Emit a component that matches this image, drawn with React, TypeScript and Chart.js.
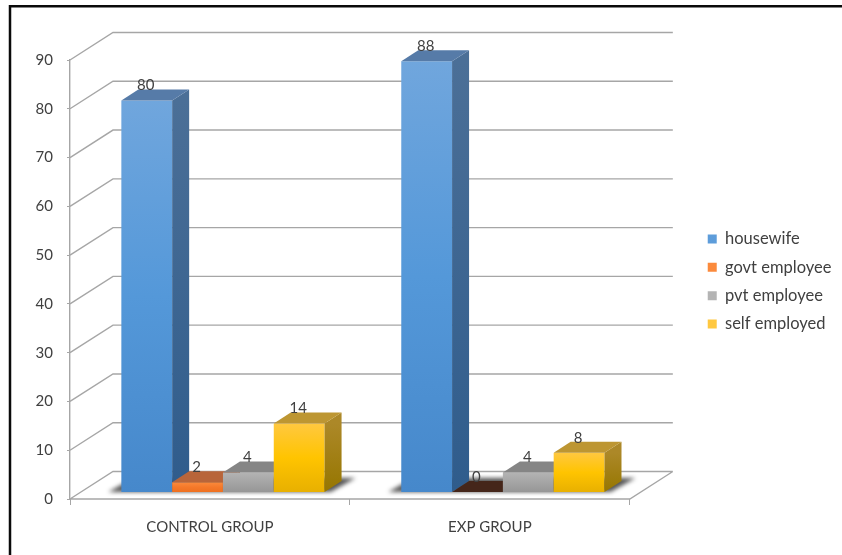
import React, { useEffect, useRef } from "react";
import { Chart, registerables } from "chart.js";

Chart.register(...registerables);

const categories = ["CONTROL GROUP", "EXP GROUP"];
const seriesNames = ["housewife", "govt employee", "pvt employee", "self employed"];
const housewife = [80, 88];
const govtEmployee = [2, 0];
const pvtEmployee = [4, 4];
const selfEmployed = [14, 8];
const seriesValues = [housewife, govtEmployee, pvtEmployee, selfEmployed];
const yTicks = [0, 10, 20, 30, 40, 50, 60, 70, 80, 90];

// Colour ramps for each series: front face (top, middle, bottom), side (top, bottom), cap.
const frontTop = ["#70a6dd", "#fb8a3c", "#b4b4b4", "#ffc840"];
const frontMid = ["#5498d9", "#f5792a", "#a5a5a5", "#ffc400"];
const frontBottom = ["#4688cb", "#ee7020", "#969696", "#e8b000"];
const sideTop = ["#4b6f97", "#a85a28", "#7c7c7c", "#ac8828"];
const sideBottom = ["#2f5c8c", "#a85a28", "#6e6e6e", "#967600"];
const capColor = ["#567ba8", "#b8653a", "#858585", "#bd9632"];
const legendColor = ["#5498d9", "#f5792a", "#a5a5a5", "#ffc400"];
const emptyCapColor = "#45261a";

const GRID = "#a6a6a6";
const TEXT = "#404040";
const FONT = "Lato";

// Projection of the 3D box: wall depth, and how far the bars sit in from the floor's front edge.
const WALL_DX = 43;
const WALL_DY = -27.5;
const BAR_DX = 13;
const BAR_DY = -7;
const BAR_DEPTH_X = 17;
const BAR_DEPTH_Y = -11;

function quad(ctx: CanvasRenderingContext2D, pts: number[][], fill: string | CanvasGradient) {
  ctx.beginPath();
  ctx.moveTo(pts[0][0], pts[0][1]);
  for (let i = 1; i < pts.length; i++) ctx.lineTo(pts[i][0], pts[i][1]);
  ctx.closePath();
  ctx.fillStyle = fill;
  ctx.fill();
}

const framePlugin = {
  id: "frame",
  beforeDraw(chart: any) {
    const { ctx } = chart;
    ctx.save();
    ctx.fillStyle = "#ffffff";
    ctx.fillRect(0, 0, chart.width, chart.height);
    ctx.strokeStyle = "#0a0a0a";
    ctx.lineWidth = 2.5;
    ctx.beginPath();
    ctx.moveTo(10, chart.height);
    ctx.lineTo(10, 6.3);
    ctx.lineTo(chart.width, 6.3);
    ctx.stroke();
    ctx.restore();
  },
};

const wallsPlugin = {
  id: "walls",
  beforeDatasetsDraw(chart: any) {
    const { ctx, chartArea, scales } = chart;
    const y = scales.y;
    const { left, right, bottom } = chartArea;
    ctx.save();
    ctx.strokeStyle = GRID;
    ctx.lineWidth = 1.4;
    ctx.beginPath();
    for (const v of yTicks) {
      const py = y.getPixelForValue(v);
      ctx.moveTo(left, py);
      ctx.lineTo(left + WALL_DX, py + WALL_DY);
      ctx.lineTo(right + WALL_DX, py + WALL_DY);
    }
    // Floor's front edge and right edge.
    ctx.moveTo(left, bottom);
    ctx.lineTo(right, bottom);
    ctx.lineTo(right + WALL_DX, bottom + WALL_DY);
    ctx.stroke();
    ctx.restore();
  },
};

const boxesPlugin = {
  id: "boxes",
  // Bars are painted left to right here so each one covers the side of its neighbour.
  beforeDatasetsDraw(chart: any) {
    const { ctx, chartArea } = chart;
    const metas = seriesNames.map((_, i) => chart.getDatasetMeta(i));

    // Soft floor shadow under each group.
    ctx.save();
    ctx.filter = "blur(2px)";
    categories.forEach((_, c) => {
      const first = metas[0].data[c];
      const last = metas[metas.length - 1].data[c];
      const base = first.base + BAR_DY;
      const l = first.x - first.width / 2 + BAR_DX;
      const r = last.x + last.width / 2 + BAR_DX;
      quad(
        ctx,
        [
          [l - 13, base],
          [r + 6, base],
          [r + 31, base - 14],
          [l + 12, base - 14],
        ],
        "rgba(20,20,20,0.72)",
      );
    });
    ctx.restore();

    metas.forEach((meta: any, s: number) => {
      meta.data.forEach((bar: any, c: number) => {
        const value = seriesValues[s][c];
        const x0 = bar.x - bar.width / 2 + BAR_DX;
        const x1 = bar.x + bar.width / 2 + BAR_DX;
        const yTop = bar.y + BAR_DY;
        const yBase = bar.base + BAR_DY;

        if (value > 0) {
          ctx.save();
          ctx.translate(BAR_DX, BAR_DY);
          bar.draw(ctx, chartArea);
          ctx.restore();
          const side = ctx.createLinearGradient(0, yTop, 0, yBase);
          side.addColorStop(0, sideTop[s]);
          side.addColorStop(1, sideBottom[s]);
          quad(
            ctx,
            [
              [x1, yTop],
              [x1 + BAR_DEPTH_X, yTop + BAR_DEPTH_Y],
              [x1 + BAR_DEPTH_X, yBase + BAR_DEPTH_Y],
              [x1, yBase],
            ],
            side,
          );
        }
        quad(
          ctx,
          [
            [x0, yTop],
            [x1, yTop],
            [x1 + BAR_DEPTH_X, yTop + BAR_DEPTH_Y],
            [x0 + BAR_DEPTH_X, yTop + BAR_DEPTH_Y],
          ],
          value > 0 ? capColor[s] : emptyCapColor,
        );
      });
    });

    // Value labels above each front face.
    ctx.save();
    ctx.font = `15px ${FONT}`;
    ctx.fillStyle = TEXT;
    ctx.textAlign = "center";
    ctx.textBaseline = "middle";
    metas.forEach((meta: any, s: number) => {
      meta.data.forEach((bar: any, c: number) => {
        ctx.fillText(String(seriesValues[s][c]), bar.x + BAR_DX - 1, bar.y + BAR_DY - 15);
      });
    });
    ctx.restore();
    return false;
  },
};

export default function App() {
  const ref = useRef<HTMLCanvasElement>(null);

  useEffect(() => {
    document.body.style.margin = "0";
    const canvas = ref.current;
    if (!canvas) return;
    const context = canvas.getContext("2d") as any;
    context.letterSpacing = "1px";

    const chart = new Chart(canvas, {
      type: "bar",
      data: {
        labels: categories,
        datasets: seriesNames.map((name, s) => ({
          label: name,
          data: seriesValues[s],
          yAxisID: "yBar",
          backgroundColor: (c: any) => {
            const scale = c.chart.scales.yBar;
            if (c.type !== "data" || !scale) return legendColor[s];
            const top = scale.getPixelForValue(c.raw);
            const base = scale.getPixelForValue(0);
            if (!Number.isFinite(top) || !Number.isFinite(base) || base - top < 1) return frontMid[s];
            const g = c.chart.ctx.createLinearGradient(0, top, 0, base);
            g.addColorStop(0, frontTop[s]);
            g.addColorStop(0.5, frontMid[s]);
            g.addColorStop(1, frontBottom[s]);
            return g;
          },
          borderWidth: 0,
          categoryPercentage: 0.726,
          barPercentage: 1,
        })),
      },
      options: {
        responsive: false,
        animation: false,
        layout: { padding: { left: 0, right: 7, top: 8, bottom: 0 } },
        plugins: {
          tooltip: { enabled: false },
          legend: {
            position: "right",
            labels: {
              boxWidth: 9,
              boxHeight: 9,
              padding: 11.9,
              color: TEXT,
              font: { family: FONT, size: 16.5 },
            },
          },
        },
        scales: {
          // Empty band above the plot, which also centres the legend on the plot's visual middle.
          xTop: {
            type: "category",
            position: "top",
            grid: { display: false },
            border: { display: false },
            ticks: { display: false },
            afterFit: (scale: any) => {
              scale.height = 52;
            },
          },
          x: {
            grid: { display: true, drawOnChartArea: false, drawTicks: true, tickLength: 6, color: GRID },
            border: { display: false },
            ticks: {
              color: TEXT,
              font: { family: FONT, size: 15 },
              padding: 13,
              maxRotation: 0,
            },
            afterFit: (scale: any) => {
              scale.height = 56;
            },
          },
          y: {
            min: 0,
            max: 90,
            position: "left",
            afterBuildTicks: (scale: any) => {
              scale.ticks = yTicks.map((value) => ({ value }));
            },
            grid: { display: true, drawOnChartArea: false, drawTicks: true, tickLength: 3, color: GRID },
            border: { display: true, color: GRID, width: 1.4 },
            ticks: { color: TEXT, font: { family: FONT, size: 15 }, padding: 14 },
            afterFit: (scale: any) => {
              scale.width = 70;
            },
          },
          // Bars stand slightly nearer the back wall, so their value axis is a little tighter.
          // This axis draws nothing and also holds the gap before the legend.
          yBar: {
            min: 0,
            max: 89.7,
            position: "right",
            grid: { display: false },
            border: { display: false },
            ticks: { display: false },
            afterFit: (scale: any) => {
              scale.width = 66;
            },
          },
        },
      },
      plugins: [framePlugin, wallsPlugin, boxesPlugin],
    } as any);

    return () => chart.destroy();
  }, []);

  return (
    <div style={{ position: "absolute", left: 0, top: 0, width: 842, height: 555 }}>
      <canvas ref={ref} width={842} height={555} style={{ display: "block" }} />
    </div>
  );
}
